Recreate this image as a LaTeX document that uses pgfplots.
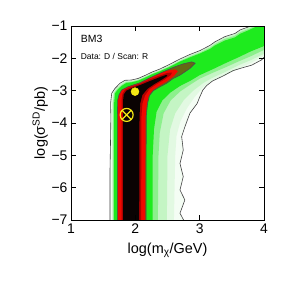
\documentclass[border=0pt]{standalone}
\usepackage{pgfplots}
\pgfplotsset{compat=1.18}
\usepackage{fontspec}
\setmainfont{Liberation Sans}
\definecolor{pale}{RGB}{244,253,244}
\definecolor{vpale}{RGB}{226,249,226}
\definecolor{lgreen}{RGB}{196,245,196}
\definecolor{mgreen}{RGB}{140,240,140}
\definecolor{bgreen}{RGB}{30,235,30}
\definecolor{olivec}{RGB}{100,105,20}
\definecolor{redc}{RGB}{240,10,0}
\definecolor{dred}{RGB}{175,0,0}
\definecolor{core}{RGB}{10,3,3}
\definecolor{yel}{RGB}{245,232,20}
\begin{document}
\begin{tikzpicture}
\path[use as bounding box] (-71bp,-71bp) rectangle (220bp,220bp);
\begin{axis}[
  at={(0,0)}, anchor=south west,
  width=193bp, height=194bp, scale only axis,
  xmin=1, xmax=4, ymin=-7, ymax=-1,
  xtick={1,2,3,4}, xticklabels={1,2,3,4},
  ytick={-7,-6,-5,-4,-3,-2,-1},
  yticklabels={−7,−6,−5,−4,−3,−2,−1},
  tick align=inside, major tick length=5bp,
  axis line style={line width=0.8bp},
  every tick/.style={black, line width=0.6bp},
  tick label style={font=\fontsize{14}{16}\selectfont},
  label style={font=\fontsize{14.5}{16}\selectfont, inner sep=0pt},
  xlabel={log(m\textsubscript{χ}/GeV)},
  ylabel={log(σ\textsuperscript{SD}/pb)},
  xlabel style={at={(axis description cs:0.5,-0.118)}, anchor=north},
  ylabel style={at={(axis description cs:-0.119,0.5)}, anchor=south},
  axis on top,
]
% pale region inside outer contour
\addplot[fill=pale, draw=none] coordinates {
(1.606,-7) (1.606,-5.5) (1.615,-4.5) (1.62,-3.8) (1.615,-3.4) (1.633,-3.08) (1.684,-2.93) (1.762,-2.77) (1.839,-2.68) (1.944,-2.67) (2.046,-2.62) (2.15,-2.53) (2.254,-2.43) (2.383,-2.33) (2.539,-2.18) (2.694,-2.02) (2.85,-1.88) (3.005,-1.76) (3.16,-1.6) (3.238,-1.49) (3.39,-1.33) (3.55,-1.23) (3.63,-1.12) (3.70,-1.07) (3.80,-1.0)
(4,-1)
(4,-1.97) (3.96,-2.05) (3.81,-2.21) (3.65,-2.3) (3.52,-2.38) (3.36,-2.55) (3.2,-2.70) (3.11,-2.84) (3.05,-2.98) (3.0,-3.2) (2.96,-3.4) (2.85,-3.69) (2.82,-3.85) (2.77,-4.12) (2.72,-4.42) (2.745,-4.84) (2.694,-5.25) (2.745,-5.66) (2.694,-6.07) (2.77,-6.38) (2.694,-6.79) (2.75,-7)
} -- cycle;
% very pale green
\addplot[fill=vpale, draw=none] coordinates {
(1.635,-7) (1.635,-3.4) (1.65,-3.08) (1.695,-2.93) (1.765,-2.79) (1.84,-2.70) (1.944,-2.69) (2.046,-2.64) (2.15,-2.55) (2.254,-2.45) (2.383,-2.35) (2.539,-2.20) (2.694,-2.04) (2.85,-1.90) (3.005,-1.78) (3.16,-1.62) (3.238,-1.51) (3.39,-1.35) (3.55,-1.25) (3.63,-1.14) (3.70,-1.09) (3.81,-1.0) (4,-1) (4,-1.93) (3.8,-2.14) (3.6,-2.32) (3.4,-2.52) (3.2,-2.68) (3.05,-2.9) (2.92,-3.2) (2.8,-3.55) (2.7,-3.95) (2.64,-4.4) (2.62,-5) (2.6,-7)
} -- cycle;
% light green
\addplot[fill=lgreen, draw=none] coordinates {
(1.645,-7) (1.645,-3.4) (1.66,-3.08) (1.70,-2.93) (1.77,-2.80) (1.84,-2.71) (1.944,-2.70) (2.046,-2.65) (2.15,-2.56) (2.254,-2.46) (2.383,-2.36) (2.539,-2.21) (2.694,-2.05) (2.85,-1.91) (3.005,-1.79) (3.16,-1.63) (3.238,-1.52) (3.39,-1.36) (3.55,-1.26) (3.63,-1.15) (3.70,-1.10) (3.82,-1.0) (4,-1) (4,-1.86) (3.8,-2.05) (3.6,-2.22) (3.4,-2.42) (3.2,-2.6) (3.05,-2.77) (2.9,-3.0) (2.75,-3.3) (2.62,-3.7) (2.54,-4.2) (2.5,-5) (2.49,-7)
} -- cycle;
% mid green
\addplot[fill=mgreen, draw=none] coordinates {
(1.655,-7) (1.655,-3.4) (1.67,-3.08) (1.715,-2.95) (1.78,-2.83) (1.85,-2.74) (1.944,-2.72) (2.046,-2.67) (2.15,-2.58) (2.254,-2.48) (2.383,-2.38) (2.539,-2.24) (2.694,-2.08) (2.85,-1.94) (3.005,-1.82) (3.16,-1.67) (3.238,-1.56) (3.39,-1.40) (3.55,-1.30) (3.63,-1.19) (3.75,-1.10) (3.86,-1.0) (4,-1) (4,-1.74) (3.8,-1.93) (3.6,-2.1) (3.4,-2.28) (3.2,-2.45) (3.0,-2.63) (2.85,-2.82) (2.7,-3.02) (2.55,-3.3) (2.44,-3.7) (2.38,-4.3) (2.36,-5) (2.35,-7)
} -- cycle;
% bright green
\addplot[fill=bgreen, draw=none] coordinates {
(1.67,-7) (1.67,-3.4) (1.685,-3.08) (1.73,-2.96) (1.79,-2.85) (1.86,-2.76) (1.944,-2.74) (2.046,-2.69) (2.15,-2.60) (2.254,-2.50) (2.383,-2.40) (2.539,-2.26) (2.694,-2.10) (2.85,-1.97) (3.005,-1.85) (3.16,-1.71) (3.238,-1.60) (3.39,-1.45) (3.55,-1.35) (3.63,-1.24) (3.75,-1.14) (3.90,-1.0) (4,-1) (4,-1.62) (3.8,-1.78) (3.6,-1.97) (3.4,-2.15) (3.2,-2.34) (3.0,-2.52) (2.85,-2.7) (2.7,-2.85) (2.55,-3.05) (2.42,-3.3) (2.33,-3.65) (2.29,-4.2) (2.27,-5) (2.27,-7)
} -- cycle;
% olive (inside inner contour)
\addplot[fill=olivec, draw=none] coordinates {
(1.72,-7) (1.72,-4) (1.725,-3.3) (1.746,-3.13) (1.788,-2.98) (1.89,-2.88) (2.07,-2.76) (2.23,-2.6) (2.383,-2.46) (2.59,-2.28) (2.746,-2.17) (2.876,-2.11) (2.93,-2.15) (2.85,-2.31) (2.694,-2.52) (2.59,-2.62) (2.487,-2.77) (2.383,-2.88) (2.28,-3.0) (2.22,-3.15) (2.19,-3.4) (2.17,-3.8) (2.166,-7)
} -- cycle;
% red
\addplot[fill=redc, draw=none] coordinates {
(1.73,-7) (1.73,-3.3) (1.75,-3.12) (1.795,-2.97) (1.89,-2.87) (2.07,-2.75) (2.23,-2.6) (2.383,-2.47) (2.5,-2.38) (2.62,-2.34) (2.66,-2.4) (2.6,-2.55) (2.487,-2.72) (2.383,-2.84) (2.28,-2.97) (2.21,-3.15) (2.18,-3.4) (2.16,-3.8) (2.155,-7)
} -- cycle;
% dark red
\addplot[fill=dred, draw=none] coordinates {
(1.785,-7) (1.785,-3.3) (1.80,-3.1) (1.84,-2.97) (1.93,-2.89) (2.07,-2.79) (2.23,-2.65) (2.383,-2.53) (2.5,-2.45) (2.57,-2.44) (2.55,-2.52) (2.45,-2.66) (2.33,-2.8) (2.22,-2.95) (2.15,-3.15) (2.11,-3.4) (2.095,-3.8) (2.09,-7)
} -- cycle;
% black core
\addplot[fill=core, draw=none] coordinates {
(1.81,-7) (1.81,-3.3) (1.82,-3.12) (1.86,-3.0) (1.95,-2.92) (2.07,-2.83) (2.23,-2.7) (2.383,-2.58) (2.48,-2.51) (2.50,-2.54) (2.42,-2.65) (2.3,-2.79) (2.19,-2.94) (2.11,-3.13) (2.075,-3.4) (2.065,-3.8) (2.06,-7)
} -- cycle;
% inner contour line
\addplot[draw=black!70, line width=0.6bp] coordinates {
(1.72,-7) (1.72,-4) (1.725,-3.3) (1.746,-3.13) (1.788,-2.98) (1.89,-2.88) (2.07,-2.76) (2.23,-2.6) (2.383,-2.46) (2.59,-2.28) (2.746,-2.17) (2.876,-2.11) (2.93,-2.15) (2.85,-2.31) (2.694,-2.52) (2.59,-2.62) (2.487,-2.77) (2.383,-2.88) (2.28,-3.0) (2.22,-3.15) (2.19,-3.4) (2.17,-3.8) (2.166,-7)
};
% outer contour lines
\addplot[draw=black!75, line width=0.6bp] coordinates {
(1.606,-7) (1.606,-5.5) (1.615,-4.5) (1.62,-3.8) (1.615,-3.4) (1.633,-3.08) (1.684,-2.93) (1.762,-2.77) (1.839,-2.68) (1.944,-2.67) (2.046,-2.62) (2.15,-2.53) (2.254,-2.43) (2.383,-2.33) (2.539,-2.18) (2.694,-2.02) (2.85,-1.88) (3.005,-1.76) (3.16,-1.6) (3.238,-1.49) (3.39,-1.33) (3.55,-1.23) (3.63,-1.12) (3.70,-1.07) (3.80,-1.0)
};
\addplot[draw=black!75, line width=0.6bp] coordinates {
(4,-1.97) (3.96,-2.05) (3.81,-2.21) (3.65,-2.3) (3.52,-2.38) (3.36,-2.55) (3.2,-2.70) (3.11,-2.84) (3.05,-2.98) (3.0,-3.2) (2.96,-3.4) (2.85,-3.69) (2.82,-3.85) (2.77,-4.12) (2.72,-4.42) (2.745,-4.84) (2.694,-5.25) (2.745,-5.66) (2.694,-6.07) (2.77,-6.38) (2.694,-6.79) (2.75,-7)
};
% markers
\addplot[only marks, mark=*, mark size=4bp, color=yel] coordinates {(1.995,-3.03)};
\addplot[only marks, mark=otimes, mark size=6.5bp, color=yel, mark options={line width=1.2bp}] coordinates {(1.865,-3.75)};
% texts
\node[anchor=west, inner sep=0pt, font=\fontsize{10.5}{12}\selectfont] at (axis cs:1.15,-1.40) {BM3};
\node[anchor=west, inner sep=0pt, font=\fontsize{8.5}{10}\selectfont] at (axis cs:1.15,-1.94) {Data: D / Scan: R};
\end{axis}
\end{tikzpicture}
\end{document}
